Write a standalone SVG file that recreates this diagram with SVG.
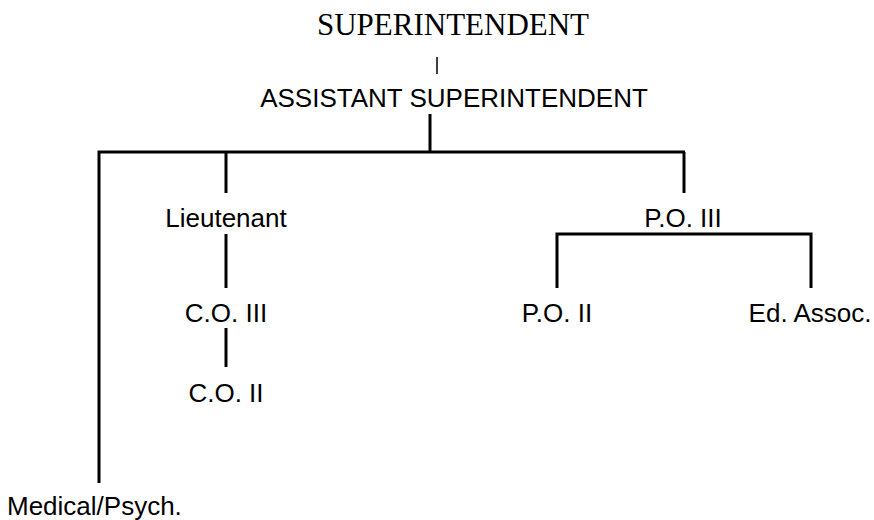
<svg xmlns="http://www.w3.org/2000/svg" width="874" height="520" viewBox="0 0 874 520">
<style>
.t{font-family:"Liberation Sans",Arial,sans-serif;font-size:26px;fill:#000}
.s{font-family:"Liberation Serif","Times New Roman",serif;font-size:31px;fill:#000}
.c{stroke:#000;stroke-width:3;fill:none;stroke-linecap:butt}
</style>
<rect width="874" height="520" fill="#fff"/>
<g id="connectors">
<line class="c" x1="437" y1="57" x2="437" y2="74" style="stroke-width:1.5"/>
<line class="c" x1="430" y1="114" x2="430" y2="152"/>
<polyline class="c" points="99,483 99,152 685,152"/>
<line class="c" x1="226" y1="152" x2="226" y2="193"/>
<line class="c" x1="684" y1="152" x2="684" y2="193"/>
<line class="c" x1="226" y1="234" x2="226" y2="288"/>
<line class="c" x1="226" y1="328" x2="226" y2="367"/>
<polyline class="c" points="557,288 557,234 811,234 811,288"/>
</g>
<g id="superintendent"><text class="s" x="453" y="35" text-anchor="middle">SUPERINTENDENT</text></g>
<g id="assistant-superintendent"><text class="t" x="454" y="107" text-anchor="middle">ASSISTANT SUPERINTENDENT</text></g>
<g id="lieutenant"><text class="t" x="226" y="227" text-anchor="middle">Lieutenant</text></g>
<g id="co3"><text class="t" x="226" y="322" text-anchor="middle">C.O. III</text></g>
<g id="co2"><text class="t" x="226" y="402" text-anchor="middle">C.O. II</text></g>
<g id="po3"><text class="t" x="683" y="227" text-anchor="middle">P.O. III</text></g>
<g id="po2"><text class="t" x="557" y="322" text-anchor="middle">P.O. II</text></g>
<g id="ed-assoc"><text class="t" x="810" y="322" text-anchor="middle">Ed. Assoc.</text></g>
<g id="medical-psych"><text class="t" x="7" y="515">Medical/Psych.</text></g>
</svg>
